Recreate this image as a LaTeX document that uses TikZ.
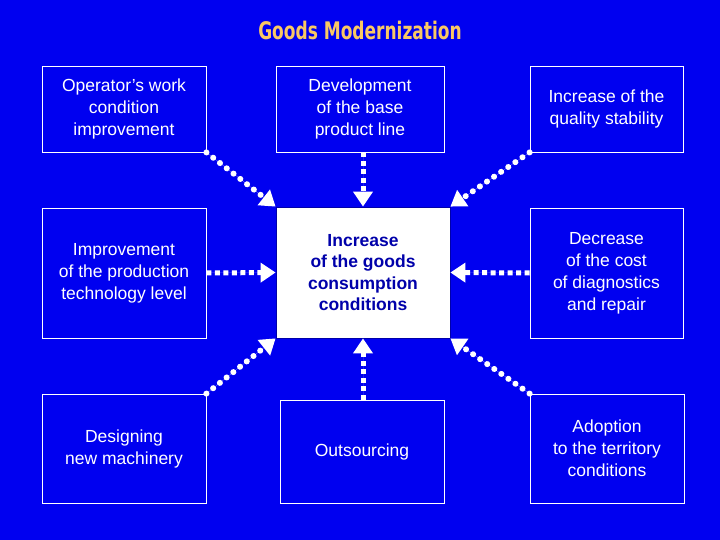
\documentclass[tikz,border=0pt]{standalone}
\usepackage{fontspec}
\setmainfont{Liberation Sans}
\newfontfamily\titlefont{DejaVu Sans Condensed}
\usetikzlibrary{arrows.meta, positioning}

\definecolor{slideblue}{RGB}{0,0,240}
\definecolor{titleyellow}{RGB}{250,200,100}
\definecolor{darkblue}{RGB}{0,0,170}

\begin{document}
\begin{tikzpicture}[
    x=1pt, y=-1pt,
    factor/.style={rectangle, draw=white, line width=0.8pt, text=white, align=center, font=\fontsize{17.5}{22}\selectfont},
    goal/.style={rectangle, draw=darkblue, fill=white, line width=0.8pt, text=darkblue, align=center, font=\bfseries\fontsize{17.5}{21.5}\selectfont},
    arrow/.style={-{Triangle[length=15pt, width=19pt]}, draw=white, fill=white, line width=5pt, dash pattern=on 5pt off 3.5pt},
    dotarrow/.style={arrow, line width=6pt, line cap=round, dash pattern=on 0.1pt off 8.5pt}
]
\fill[slideblue] (0,0) rectangle (720,540);
\useasboundingbox (0,0) rectangle (720,540);

% Title
\node[text=titleyellow, font=\titlefont\bfseries\fontsize{22}{24}\selectfont] (title) at (360,30) {\scalebox{0.86}[1.1]{Goods Modernization}};

% Nodes
\node[factor, minimum width=164pt, minimum height=86pt] (operator) at (124,109) {Operator's work\\condition\\improvement};
\node[factor, minimum width=168pt, minimum height=86pt] (base-line) at (360,109) {Development\\of the base\\product line};
\node[factor, minimum width=153pt, minimum height=86pt] (quality) at (606.5,109) {Increase of the\\quality stability};
\node[factor, minimum width=164pt, minimum height=130pt] (technology) at (124,273) {Improvement\\of the production\\technology level};
\node[goal, minimum width=174pt, minimum height=131pt] (consumption) at (363,272.5) {Increase\\of the goods\\consumption\\conditions};
\node[factor, minimum width=153pt, minimum height=130pt] (cost) at (606.5,273) {Decrease\\of the cost\\of diagnostics\\and repair};
\node[factor, minimum width=164pt, minimum height=109pt] (machinery) at (124,448.5) {Designing\\new machinery};
\node[factor, minimum width=164pt, minimum height=103pt] (outsourcing) at (362,451.5) {Outsourcing};
\node[factor, minimum width=154pt, minimum height=109pt] (territory) at (607,448.5) {Adoption\\to the territory\\conditions};

% Arrows
\draw[dotarrow] (operator.south east) -- (consumption.north west);
\draw[arrow] (base-line.south -| consumption.north) -- (consumption.north);
\draw[dotarrow] (quality.south west) -- (consumption.north east);
\draw[arrow] (technology.east) -- (consumption.west);
\draw[arrow] (cost.west) -- (consumption.east);
\draw[dotarrow] (machinery.north east) -- (consumption.south west);
\draw[arrow] (outsourcing.north -| consumption.south) -- (consumption.south);
\draw[dotarrow] (territory.north west) -- (consumption.south east);

\end{tikzpicture}
\end{document}
